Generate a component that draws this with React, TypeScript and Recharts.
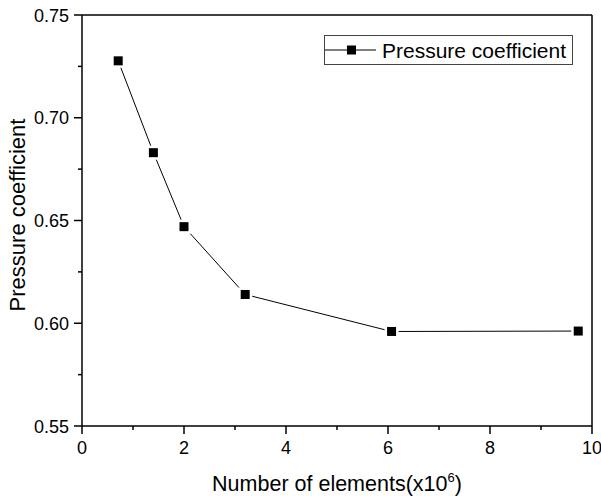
import { LineChart, Line, XAxis, YAxis, ReferenceLine, Legend } from "recharts";

const elements = [0.71, 1.4, 2.0, 3.2, 6.07, 9.73];
const pressureCoefficient = [0.7277, 0.683, 0.647, 0.614, 0.596, 0.5962];
const xTicks = [0, 1, 2, 3, 4, 5, 6, 7, 8, 9, 10];
const yTicks = [0.55, 0.575, 0.6, 0.625, 0.65, 0.675, 0.7, 0.725, 0.75];

const data = elements.map((x, i) => ({ x, cp: pressureCoefficient[i] }));

const FONT = '"Liberation Sans", Arial, sans-serif';

function XTick({ x, y, payload }: any) {
  const major = payload.value % 2 === 0;
  return (
    <g>
      <line x1={x} x2={x} y1={y} y2={y + (major ? 8 : 4)} stroke="#000" strokeWidth={1.5} />
      {major && (
        <text x={x} y={y + 27.5} textAnchor="middle" fontSize={18} fontFamily={FONT} fill="#000">
          {payload.value}
        </text>
      )}
    </g>
  );
}

function YTick({ x, y, payload }: any) {
  const major = Math.round(payload.value * 1000) % 50 === 0;
  return (
    <g>
      <line x1={x - (major ? 8 : 4)} x2={x} y1={y} y2={y} stroke="#000" strokeWidth={1.5} />
      {major && (
        <text x={x - 13} y={y + 6.5} textAnchor="end" fontSize={18} fontFamily={FONT} fill="#000">
          {payload.value.toFixed(2)}
        </text>
      )}
    </g>
  );
}

function SquareDot({ cx, cy }: any) {
  return (
    <g>
      <rect x={cx - 7} y={cy - 7} width={14} height={14} fill="#fff" />
      <rect x={cx - 4.5} y={cy - 4.5} width={9} height={9} fill="#000" />
    </g>
  );
}

function LegendBox() {
  return (
    <svg width={249} height={30} style={{ display: "block" }}>
      <rect x={0.5} y={0.5} width={248} height={29} fill="#fff" stroke="#444" strokeWidth={1} />
      <line x1={1} x2={52} y1={15} y2={15} stroke="#000" strokeWidth={1} />
      <rect x={23} y={10.5} width={9} height={9} fill="#000" />
      <text x={58} y={22.5} fontSize={21} fontFamily={FONT} fill="#000">
        Pressure coefficient
      </text>
    </svg>
  );
}

export default function App() {
  return (
    <div style={{ position: "absolute", left: 0, top: 0, background: "#fff" }}>
      <LineChart width={601} height={496} data={data} margin={{ top: 15, right: 9, bottom: 0, left: 0 }}>
        <XAxis
          dataKey="x"
          type="number"
          domain={[0, 10]}
          ticks={xTicks}
          interval={0}
          height={70}
          tickSize={0}
          tickMargin={0}
          tickLine={false}
          tick={<XTick />}
          axisLine={{ stroke: "#000", strokeWidth: 1.5 }}
          label={{
            content: ({ viewBox }: any) => (
              <text x={viewBox.x + viewBox.width / 2} y={491} textAnchor="middle" fontSize={21.5} fontFamily={FONT} fill="#000">
                Number of elements(x10
                <tspan dy={-9} fontSize={13}>6</tspan>
                <tspan dy={9}>)</tspan>
              </text>
            ),
          }}
        />
        <YAxis
          type="number"
          domain={[0.55, 0.75]}
          ticks={yTicks}
          interval={0}
          width={82}
          tickSize={0}
          tickMargin={0}
          tickLine={false}
          tick={<YTick />}
          axisLine={{ stroke: "#000", strokeWidth: 1.5 }}
          label={{
            content: () => (
              <text x={25} y={215} transform="rotate(-90 25 215)" textAnchor="middle" fontSize={22} fontFamily={FONT} fill="#000">
                Pressure coefficient
              </text>
            ),
          }}
        />
        <ReferenceLine y={0.75} stroke="#000" strokeWidth={1.5} />
        <ReferenceLine x={10} stroke="#000" strokeWidth={1.5} />
        <Legend
          verticalAlign="middle"
          align="center"
          content={() => <LegendBox />}
          wrapperStyle={{ position: "absolute", left: 324, top: 35, width: 249, height: 30 }}
        />
        <Line
          dataKey="cp"
          stroke="#000"
          strokeWidth={1}
          dot={<SquareDot />}
          activeDot={false}
          isAnimationActive={false}
        />
      </LineChart>
    </div>
  );
}
